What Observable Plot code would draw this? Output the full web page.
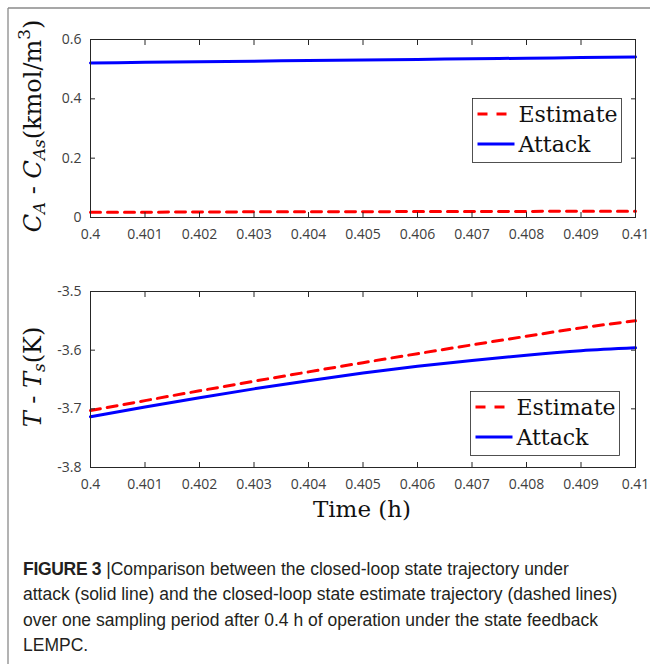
<!DOCTYPE html>
<html>
<head>
<meta charset="utf-8">
<script src="https://cdn.jsdelivr.net/npm/d3@7"></script>
<script src="https://cdn.jsdelivr.net/npm/@observablehq/plot@0.6"></script>
<style>
  html, body { margin: 0; padding: 0; background: #fff; }
  #root { position: relative; width: 650px; height: 664px; overflow: hidden; background: #fff; }
  #root > svg { position: absolute; left: 0; }
  #caption {
    position: absolute; left: 23px; top: 557px; width: 625px;
    font-family: "Liberation Sans", Arial, sans-serif; font-size: 17.5px;
    line-height: 25.3px; color: #231f20; white-space: nowrap;
  }
  #caption b { font-weight: bold; letter-spacing: -0.3px; }
</style>
</head>
<body>
<div id="root"></div>
<script>
// ---- data ----
const time = [0.400, 0.401, 0.402, 0.403, 0.404, 0.405, 0.406, 0.407, 0.408, 0.409, 0.410];
const caEstimate = [0.018, 0.018, 0.0185, 0.019, 0.019, 0.0195, 0.020, 0.020, 0.0205, 0.021, 0.021];
const caAttack   = [0.521, 0.523, 0.525, 0.527, 0.529, 0.531, 0.533, 0.535, 0.537, 0.539, 0.541];
const tEstimate  = [-3.703, -3.686, -3.6693, -3.653, -3.637, -3.6213, -3.606, -3.591, -3.5763, -3.562, -3.550];
const tAttack    = [-3.7135, -3.697, -3.681, -3.666, -3.652, -3.639, -3.6275, -3.6175, -3.6085, -3.601, -3.596];

const xTicks = [0.400, 0.401, 0.402, 0.403, 0.404, 0.405, 0.406, 0.407, 0.408, 0.409, 0.410];
const xTickLabels = ["0.4", "0.401", "0.402", "0.403", "0.404", "0.405", "0.406", "0.407", "0.408", "0.409", "0.41"];
const caTicks = [0, 0.2, 0.4, 0.6];
const caTickLabels = ["0", "0.2", "0.4", "0.6"];
const tTicks = [-3.8, -3.7, -3.6, -3.5];
const tTickLabels = ["-3.8", "-3.7", "-3.6", "-3.5"];
const seriesNames = ["Estimate", "Attack"];

const RED = "#ff0000", BLUE = "#0000ff", AX = "#262626";

function panel({est, att, yDomain, yTicks, yTickLabels, height, marginTop, marginBottom}) {
  const estData = time.map((t, i) => ({t, v: est[i]}));
  const attData = time.map((t, i) => ({t, v: att[i]}));
  const xLab = new Map(xTicks.map((d, i) => [d, xTickLabels[i]]));
  const yLab = new Map(yTicks.map((d, i) => [d, yTickLabels[i]]));
  return Plot.plot({
    width: 650, height, marginTop, marginBottom, marginLeft: 90, marginRight: 15,
    style: {fontFamily: "'Open Sans', 'DejaVu Sans', sans-serif", fontSize: "14px", color: AX, background: "transparent", overflow: "visible"},
    x: {domain: [0.4, 0.41], axis: null},
    y: {domain: yDomain, axis: null},
    marks: [
      Plot.line(estData, {x: "t", y: "v", stroke: RED, strokeWidth: 3, strokeDasharray: "10,7", curve: "monotone-x"}),
      Plot.line(attData, {x: "t", y: "v", stroke: BLUE, strokeWidth: 3, curve: "monotone-x"}),
      Plot.frame({stroke: AX, strokeWidth: 1}),
      Plot.axisX(xTicks, {anchor: "bottom", tickSize: 0, tickPadding: 12, tickFormat: d => xLab.get(d), label: null, fill: "#404040"}),
      Plot.axisX(xTicks, {anchor: "bottom", tickSize: 5, dy: -5, tickFormat: () => "", label: null, stroke: AX}),
      Plot.axisX(xTicks, {anchor: "top", tickSize: 5, dy: 5, tickFormat: () => "", label: null, stroke: AX}),
      Plot.axisY(yTicks, {anchor: "left", tickSize: 0, tickPadding: 9, tickFormat: d => yLab.get(d), label: null, fill: "#404040"}),
      Plot.axisY(yTicks, {anchor: "left", tickSize: 5, dx: 5, tickFormat: () => "", label: null, stroke: AX}),
      Plot.axisY(yTicks, {anchor: "right", tickSize: 5, dx: -5, tickFormat: () => "", label: null, stroke: AX})
    ]
  });
}

const root = document.getElementById("root");

const top1 = panel({est: caEstimate, att: caAttack, yDomain: [0, 0.6], yTicks: caTicks, yTickLabels: caTickLabels,
  height: 260, marginTop: 39, marginBottom: 43});
top1.style.top = "0px";
root.appendChild(top1);

const bot = panel({est: tEstimate, att: tAttack, yDomain: [-3.8, -3.5], yTicks: tTicks, yTickLabels: tTickLabels,
  height: 270, marginTop: 31, marginBottom: 63});
bot.style.top = "260px";
root.appendChild(bot);

// ---- overlay: labels, legends, border ----
const ov = d3.select(root).append("svg")
  .attr("width", 650).attr("height", 664)
  .style("position", "absolute").style("left", "0px").style("top", "0px")
  .style("pointer-events", "none");

ov.append("line").attr("x1", 8).attr("y1", 8).attr("x2", 8).attr("y2", 664).attr("stroke", "#8a8a8a").attr("stroke-width", 1.3);
ov.append("line").attr("x1", 8).attr("y1", 8).attr("x2", 650).attr("y2", 8).attr("stroke", "#8a8a8a").attr("stroke-width", 1.3);

const SERIF = "'DejaVu Serif', 'Liberation Serif', serif";

function richText(g, parts, size) {
  const t = g.append("text").attr("font-family", SERIF).attr("font-size", size)
    .attr("text-anchor", "middle").attr("dominant-baseline", "central").attr("fill", "#111");
  let shift = 0;
  for (const p of parts) {
    const target = p.sub ? size * 0.25 : p.sup ? -size * 0.38 : 0;
    const ts = t.append("tspan").text(p.s);
    if (target !== shift) { ts.attr("dy", target - shift); shift = target; }
    if (p.i) ts.attr("font-style", "italic");
    if (p.sub || p.sup) ts.attr("font-size", size * 0.7);
  }
  return t;
}

const yl1 = ov.append("g").attr("transform", "translate(33,126) rotate(-90)");
richText(yl1, [
  {s: "C", i: true}, {s: "A", i: true, sub: true}, {s: " - "}, {s: "C", i: true},
  {s: "As", i: true, sub: true}, {s: "(kmol/m"}, {s: "3", sup: true}, {s: ")"}
], 24);

const yl2 = ov.append("g").attr("transform", "translate(33,377) rotate(-90)");
richText(yl2, [
  {s: "T", i: true}, {s: " - "}, {s: "T", i: true}, {s: "s", i: true, sub: true}, {s: "(K)"}
], 24);

ov.append("text").attr("x", 362).attr("y", 509).attr("text-anchor", "middle").attr("dominant-baseline", "central")
  .attr("font-family", SERIF).attr("font-size", 23).attr("fill", "#111").text("Time (h)");

function legend(x, y, w, h, y1, y2) {
  ov.append("rect").attr("x", x).attr("y", y).attr("width", w).attr("height", h)
    .attr("fill", "#fff").attr("stroke", AX).attr("stroke-width", 0.8);
  ov.append("line").attr("x1", x + 5).attr("x2", x + 35).attr("y1", y1).attr("y2", y1)
    .attr("stroke", RED).attr("stroke-width", 3).attr("stroke-dasharray", "10,9");
  ov.append("line").attr("x1", x + 5).attr("x2", x + 42).attr("y1", y2).attr("y2", y2)
    .attr("stroke", BLUE).attr("stroke-width", 3);
  [y1, y2].forEach((yy, i) => {
    ov.append("text").attr("x", x + 46).attr("y", yy).attr("dominant-baseline", "central")
      .attr("font-family", SERIF).attr("font-size", 22).attr("fill", "#111").text(seriesNames[i]);
  });
}
legend(472.5, 98.5, 149, 64, 114, 144);
legend(470.5, 391.5, 149, 64, 407, 437);

// ---- caption ----
const cap = document.createElement("div");
cap.id = "caption";
cap.innerHTML = "<b>FIGURE 3</b> |Comparison between the closed-loop state trajectory under<br>" +
  "attack (solid line) and the closed-loop state estimate trajectory (dashed lines)<br>" +
  "over one sampling period after 0.4 h of operation under the state feedback<br>" +
  "LEMPC.";
root.appendChild(cap);
</script>
</body>
</html>
